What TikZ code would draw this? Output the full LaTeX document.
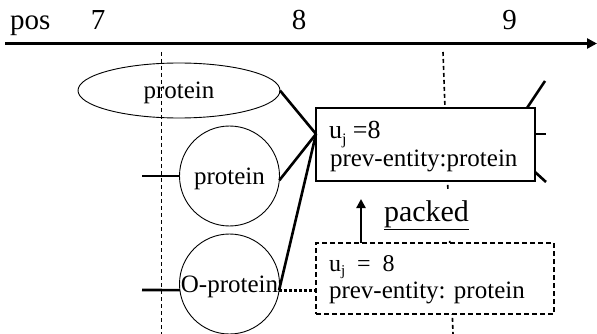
\documentclass[tikz,border=0pt]{standalone}
\usepackage{fontspec}
\setmainfont{Liberation Serif}
\usepackage{tikz}
\usetikzlibrary{positioning,calc,shapes.geometric,arrows.meta}
\newcommand{\fs}[1]{\fontsize{#1}{#1}\selectfont}
\newcommand{\subj}[1]{\raisebox{-0.45ex}{\fs{#1}j}}

\begin{document}
\begin{tikzpicture}[x=1pt,y=-1pt,
  every node/.style={inner sep=0pt,outer sep=0pt},
  border/.style={draw,line width=0.9pt},
  heavy/.style={line width=2.6pt},
  guide/.style={line width=1.6pt,dash pattern=on 4pt off 3pt},
  tip/.style={-{Triangle[length=10pt,width=10pt]}}]
\useasboundingbox (0,0) rectangle (597,334);
% AXIS: positions 7, 8, 9
\coordinate (axL) at (5,43.5);
\coordinate (axR) at (597,43.5);
\draw[heavy,tip] (axL) -- (axR);
\node[anchor=base west,font=\fs{29}] (pos) at (10,30) {pos};
\node[anchor=base,font=\fs{29}] (p7) at (98,30) {7};
\node[anchor=base,font=\fs{29}] (p8) at (299,30) {8};
\node[anchor=base,font=\fs{29}] (p9) at (509.5,30) {9};
% right guide runs behind the boxes
\coordinate (gB1) at (443,52);
\coordinate (gB2) at (453,334);
\draw[guide] (gB1) -- (gB2);
% CANDIDATES: ellipse and two circles
\node[ellipse,border,minimum width=202pt,minimum height=55pt,font=\fs{25},text depth=0pt] (ell) at (179,90.5) {protein};
\node[circle,border,minimum size=100pt,font=\fs{25},text depth=0pt] (pcirc) at (229.5,176) {protein};
\node[circle,border,minimum size=100pt,font=\fs{25},text depth=0pt] (ocirc) at (229.5,284) {O-protein};
% left guide is drawn over the ellipse text
\coordinate (gA1) at (161.5,52);
\coordinate (gA2) at (161.5,334);
\draw[guide] (gA1) -- (gA2);
% STATE BOX: u_j = 8
\node[border,line width=1.1pt,fill=white,minimum width=219pt,minimum height=73pt] (ubox) at (425.5,144.5) {};
\node[anchor=base west,font=\fs{26}] (utop) at (329,139) {u\subj{16} =8};
\node[anchor=base west,font=\fs{25}] (uprev) at (330,167) {prev-entity:protein};
% PACKED BOX (dashed)
\node[draw,line width=1.4pt,dash pattern=on 5pt off 3pt,fill=white,minimum width=238pt,minimum height=71pt] (dbox) at (435,278.5) {};
\node[anchor=base west,font=\fs{24}] (dtop) at (329,271) {u\subj{15} \ = \ 8};
\node[anchor=base west,font=\fs{25}] (dprev) at (329,298) {prev-entity: protein};
\node[anchor=base west,font=\fs{30},fill=white,inner xsep=1pt,inner ysep=10pt] (packed) at (383,221) {\underline{packed}};
% CONNECTORS
\coordinate (join) at (316,134);
\draw[heavy] (ell.east) -- (join);
\draw[heavy] (pcirc.355) -- (join);
\draw[heavy] (ocirc.353) -- (join);
\coordinate (sP) at (142,176);
\coordinate (sO) at (142,290);
\draw[heavy] (sP) -- (pcirc.west);
\draw[heavy] (sO) -- (ocirc.187);
\draw[line width=3pt,dash pattern=on 3pt off 2pt] (ocirc.353) -- (ocirc.353 -| dbox.west);
\coordinate (rA) at (545,81);
\coordinate (rB) at (546,134);
\coordinate (rC) at (546,182);
\draw[heavy] ([xshift=-8pt]ubox.north east) -- (rA);
\draw[heavy] (ubox.east |- rB) -- (rB);
\draw[heavy] ([yshift=9pt]ubox.south east) -- (rC);
\coordinate (arrx) at (361,0);
\draw[heavy,-{Triangle[length=9pt,width=9pt]}] (dbox.north -| arrx) -- ([yshift=-18pt]ubox.south -| arrx);
\end{tikzpicture}
\end{document}
